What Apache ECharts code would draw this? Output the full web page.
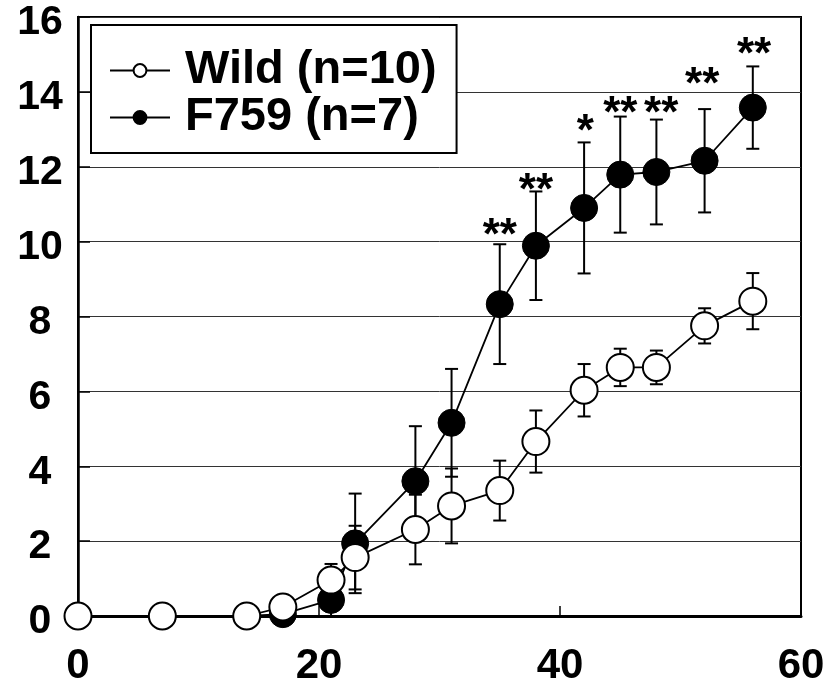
<!DOCTYPE html>
<html>
<head>
<meta charset="utf-8">
<script src="https://cdn.jsdelivr.net/npm/echarts@6/dist/echarts.min.js"></script>
<style>
html,body{margin:0;padding:0;background:#fff;}
#chart{width:825px;height:684px;}
</style>
</head>
<body>
<div id="chart"></div>
<script>
// ---- data ----
var days = [0, 7, 14, 17, 21, 23, 28, 31, 35, 38, 42, 45, 48, 52, 56];
var wildMean = [0, 0, 0, 0.24, 0.96, 1.56, 2.31, 2.94, 3.35, 4.66, 6.03, 6.64, 6.64, 7.75, 8.41];
var wildErr  = [0, 0, 0, 0, 0.43, 0.85, 0.93, 1.0, 0.8, 0.83, 0.7, 0.5, 0.45, 0.47, 0.75];
var f759Mean = [0, 0, 0, 0.05, 0.43, 1.94, 3.6, 5.16, 8.33, 9.89, 10.9, 11.79, 11.86, 12.16, 13.58];
var f759Err  = [0, 0, 0, 0, 0.45, 1.33, 1.47, 1.44, 1.6, 1.45, 1.75, 1.55, 1.4, 1.38, 1.1];
var sigX     = [35, 38, 42.1, 45, 48.4, 51.8, 56.1];
var sigY     = [10.39, 11.59, 13.16, 13.64, 13.64, 14.42, 15.23];
var sigText  = ['**', '**', '*', '**', '**', '**', '**'];
var seriesNames = ['Wild (n=10)', 'F759 (n=7)'];
var xTicks = {min: 0, max: 60, interval: 20};
var yTicks = {min: 0, max: 16, interval: 2};

function pairs(xs, ys) { return xs.map(function (x, i) { return [x, ys[i]]; }); }
function errData(xs, m, e) {
  var out = [];
  for (var i = 0; i < xs.length; i++) { if (e[i] > 0) out.push([xs[i], m[i] - e[i], m[i] + e[i]]); }
  return out;
}

function renderErr(params, api) {
  var x = api.value(0);
  var lo = api.coord([x, Math.max(api.value(1), 0)]);
  var hi = api.coord([x, api.value(2)]);
  var hw = 6.5;
  var st = {stroke: '#000', lineWidth: 2};
  var children = [
    {type: 'line', shape: {x1: hi[0], y1: hi[1], x2: lo[0], y2: lo[1]}, style: st},
    {type: 'line', shape: {x1: hi[0] - hw, y1: hi[1], x2: hi[0] + hw, y2: hi[1]}, style: st}
  ];
  if (api.value(1) > 0) {
    children.push({type: 'line', shape: {x1: lo[0] - hw, y1: lo[1], x2: lo[0] + hw, y2: lo[1]}, style: st});
  }
  return {type: 'group', children: children};
}

var chart = echarts.init(document.getElementById('chart'));
var labelFont = 'Liberation Sans, Arial, sans-serif';
chart.setOption({
  animation: false,
  backgroundColor: '#fff',
  grid: {left: 78, right: 24, top: 17, bottom: 68, show: true, borderColor: '#000', borderWidth: 2,
         backgroundColor: 'transparent', containLabel: false, outerBoundsMode: 'none'},
  legend: {
    data: seriesNames,
    orient: 'vertical',
    left: 91, top: 25,
    padding: [22, 20, 12, 18],
    itemGap: 0,
    itemWidth: 60, itemHeight: 16,
    backgroundColor: '#fff',
    borderColor: '#000', borderWidth: 2,
    selectedMode: false,
    textStyle: {fontSize: 47, fontWeight: 'bold', color: '#000', fontFamily: labelFont, lineHeight: 47, padding: [0, 0, 0, 10]}
  },
  xAxis: {
    type: 'value', min: xTicks.min, max: xTicks.max, interval: xTicks.interval,
    axisLine: {show: true, lineStyle: {color: '#000', width: 3}},
    axisTick: {show: true, inside: true, length: 10, lineStyle: {color: '#000', width: 1.5}},
    splitLine: {show: false},
    axisLabel: {fontSize: 42, fontWeight: 'bold', color: '#000', fontFamily: labelFont, margin: 29}
  },
  yAxis: {
    type: 'value', min: yTicks.min, max: yTicks.max, interval: yTicks.interval,
    axisLine: {show: true, lineStyle: {color: '#000', width: 2.5}},
    axisTick: {show: true, inside: true, length: 12, lineStyle: {color: '#000', width: 1.5}},
    splitLine: {show: true, lineStyle: {color: '#333', width: 1}},
    axisLabel: {fontSize: 41, fontWeight: 'bold', color: '#000', fontFamily: labelFont, margin: 38, align: 'center', verticalAlign: 'top', lineHeight: 12}
  },
  series: [
    {type: 'custom', name: 'f759err', renderItem: renderErr, data: errData(days, f759Mean, f759Err), z: 2, clip: false, encode: {x: 0, y: [1, 2]}},
    {type: 'custom', name: 'wilderr', renderItem: renderErr, data: errData(days, wildMean, wildErr), z: 2, clip: false, encode: {x: 0, y: [1, 2]}},
    {
      type: 'line', name: seriesNames[1], data: pairs(days, f759Mean), z: 3, clip: false,
      symbol: 'circle', symbolSize: 27,
      itemStyle: {color: '#000', borderColor: '#000', borderWidth: 1},
      lineStyle: {color: '#000', width: 1.8},
      emphasis: {disabled: true}
    },
    {
      type: 'line', name: seriesNames[0], data: pairs(days, wildMean), z: 4, clip: false,
      symbol: 'circle', symbolSize: 27,
      itemStyle: {color: '#fff', borderColor: '#000', borderWidth: 2},
      lineStyle: {color: '#000', width: 1.8},
      emphasis: {disabled: true}
    },
    {
      type: 'custom', name: 'sig', z: 5, clip: false,
      data: sigX.map(function (x, i) { return [x, sigY[i], i]; }),
      encode: {x: 0, y: 1},
      renderItem: function (params, api) {
        var p = api.coord([api.value(0), api.value(1)]);
        return {type: 'text', x: p[0], y: p[1] + 10, style: {
          text: sigText[api.value(2)], textAlign: 'center', textVerticalAlign: 'middle',
          font: 'bold 44px ' + labelFont, fill: '#000'
        }};
      }
    }
  ]
});
</script>
</body>
</html>
